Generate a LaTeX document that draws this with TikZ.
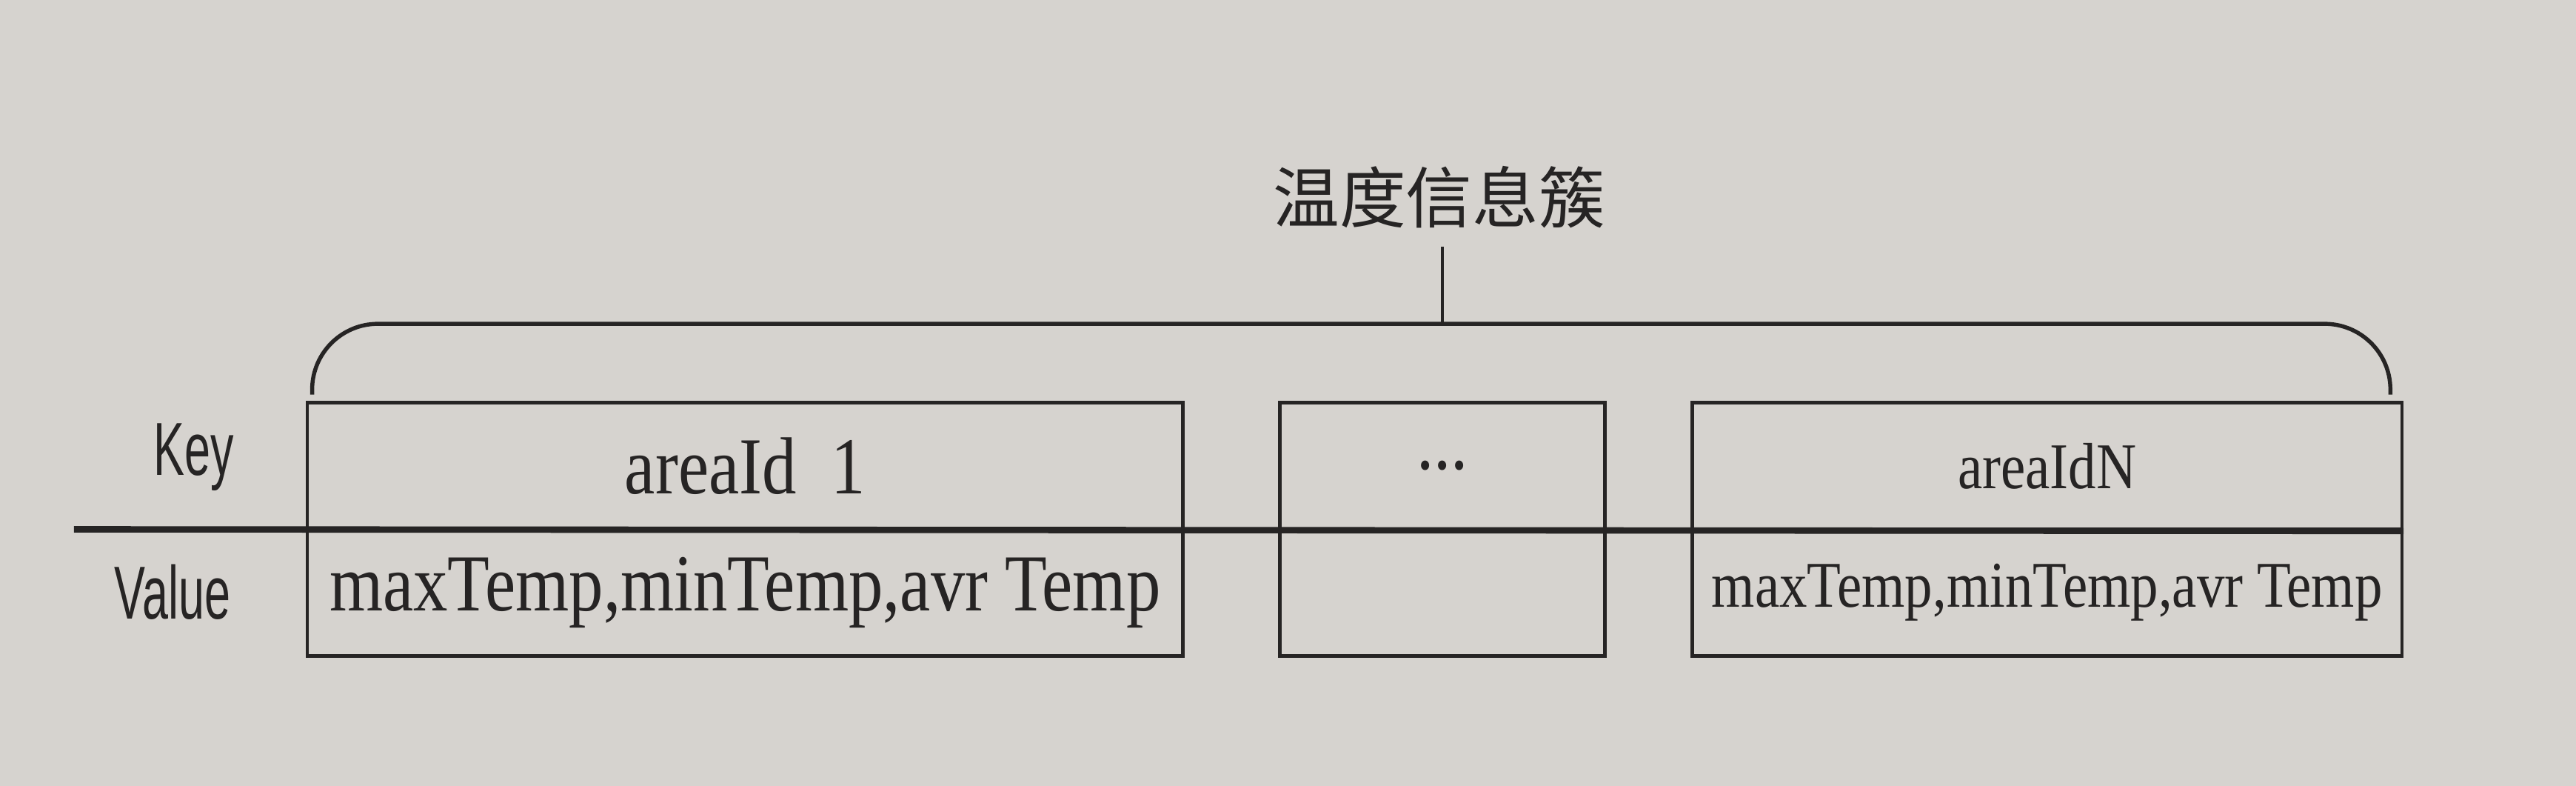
\documentclass[tikz,border=0pt]{standalone}
\usepackage{fontspec}
\setmainfont{Liberation Serif}[FakeStretch=0.85]
\newfontfamily\keyfont{Liberation Sans}[FakeStretch=0.62]
\newfontfamily\cjk{Noto Sans CJK SC}
\definecolor{paper}{RGB}{214,211,207}
\definecolor{ink}{RGB}{38,36,36}

\begin{document}
\begin{tikzpicture}

\tikzset{cell/.style={draw=ink,line width=0.6pt,minimum height=0.77cm,inner sep=0pt,text=ink}}
\tikzset{big/.style={font=\fontsize{14}{16}\selectfont}}
\tikzset{small/.style={font=\fontsize{11.3}{13}\selectfont}}
\tikzset{rowlabel/.style={font=\keyfont\fontsize{13}{15}\selectfont,text=ink}}
\tikzset{sepline/.style={draw=ink,line width=1.1pt}}
\tikzset{brace/.style={draw=ink,line width=0.7pt,rounded corners=0.4cm}}

\useasboundingbox[fill=paper] (0,0) rectangle (15.68,-4.78);

\node[text=ink,font=\cjk\fontsize{11.5}{13}\selectfont] (title) at (8.76,-1.20) {温度信息簇};

\node[rowlabel] (key) at (1.18,-2.78) {Key};
\node[rowlabel] (value) at (1.05,-3.60) {Value};

% first area
\node[cell,big,minimum width=5.33cm] (k1) at (4.535,-2.835) {areaId\ \ 1};
\node[cell,big,minimum width=5.33cm] (v1) at (4.535,-3.605) {maxTemp,minTemp,avr Temp};

% gap
\node[cell,big,minimum width=1.98cm] (k2) at (8.78,-2.835) {...};
\node[cell,minimum width=1.98cm] (v2) at (8.78,-3.605) {};

% last area
\node[cell,small,minimum width=4.32cm] (k3) at (12.46,-2.835) {areaIdN};
\node[cell,small,minimum width=4.32cm] (v3) at (12.46,-3.605) {maxTemp,minTemp,avr Temp};

\coordinate (lineL) at (0.45,-3.22);
\path[sepline] (lineL) to (k3.south east);

\coordinate (bl) at (1.90,-2.40);
\coordinate (br) at (14.55,-2.40);
\coordinate (top) at (8.78,-1.97);
\coordinate (tick) at (8.78,-1.50);
\path[brace] (bl) |- (top) -| (br);
\path[draw=ink,line width=0.45pt] (tick) to (top);

\end{tikzpicture}
\end{document}
